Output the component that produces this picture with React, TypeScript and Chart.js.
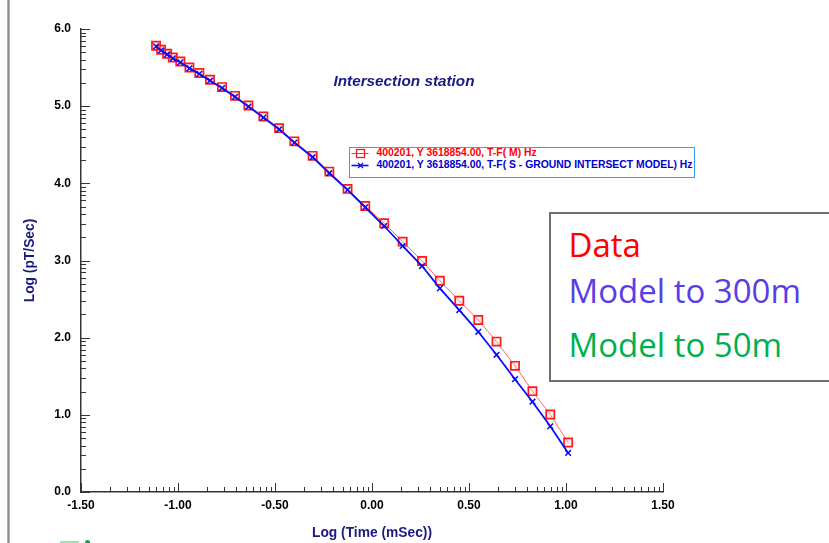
import React, { useEffect, useRef } from 'react';
import { Chart, registerables } from 'chart.js';

Chart.register(...registerables);

// ---- data ----
const LOG_TIME = [
  -1.113, -1.087, -1.056, -1.027, -0.988, -0.941, -0.890, -0.835, -0.773, -0.706,
  -0.637, -0.560, -0.479, -0.400, -0.306, -0.220, -0.126, -0.035, 0.063, 0.158,
  0.258, 0.350, 0.450, 0.548, 0.642, 0.737, 0.827, 0.919, 1.011,
];
const DATA_VALUES = [
  5.783, 5.731, 5.679, 5.631, 5.579, 5.501, 5.429, 5.342, 5.247, 5.134,
  5.008, 4.866, 4.715, 4.544, 4.356, 4.152, 3.928, 3.707, 3.483, 3.244,
  2.993, 2.738, 2.478, 2.228, 1.949, 1.635, 1.307, 1.004, 0.641,
];
const MODEL_VALUES = [
  5.775, 5.722, 5.670, 5.620, 5.568, 5.490, 5.418, 5.330, 5.235, 5.120,
  4.995, 4.852, 4.700, 4.528, 4.339, 4.131, 3.915, 3.690, 3.447, 3.188,
  2.928, 2.639, 2.358, 2.076, 1.778, 1.462, 1.170, 0.852, 0.506,
];
const X_TICKS = [-1.5, -1.0, -0.5, 0.0, 0.5, 1.0, 1.5];
const Y_TICKS = [0, 1, 2, 3, 4, 5, 6];
const MINOR_STEPS = [2, 3, 4, 5, 6, 7, 8, 9];

const SERIES_DATA_LABEL = '400201, Y 3618854.00, T-F( M) Hz';
const SERIES_MODEL_LABEL = '400201, Y 3618854.00, T-F( S - GROUND INTERSECT MODEL) Hz';
const CHART_TITLE = 'Intersection station';
const X_TITLE = 'Log (Time (mSec))';
const Y_TITLE = 'Log (pT/Sec)';
const NOTE_LINES = ['Data', 'Model to 300m', 'Model to 50m'];

const FONT = '"Liberation Sans", Arial, Helvetica, sans-serif';
const NAVY = '#1a1a80';

const tickPlugin = {
  id: 'logMinorTicks',
  afterDraw(chart: any) {
    const { ctx, chartArea } = chart;
    const xs = chart.scales.x;
    const ys = chart.scales.y;
    ctx.save();
    ctx.strokeStyle = '#333';
    ctx.lineWidth = 1;
    const seg = (x1: number, y1: number, x2: number, y2: number) => {
      ctx.beginPath();
      ctx.moveTo(x1, y1);
      ctx.lineTo(x2, y2);
      ctx.stroke();
    };
    const b = chartArea.bottom;
    X_TICKS.forEach((v, i) => {
      const px = Math.round(xs.getPixelForValue(v)) + 0.5;
      seg(px, b, px, b - 9);
      if (i < X_TICKS.length - 1) {
        const step = X_TICKS[i + 1] - v;
        MINOR_STEPS.forEach((k) => {
          const mx = Math.round(xs.getPixelForValue(v + step * Math.log10(k))) + 0.5;
          seg(mx, b, mx, b - 5);
        });
      }
    });
    const l = chartArea.left;
    Y_TICKS.forEach((v, i) => {
      const py = Math.round(ys.getPixelForValue(v)) + 0.5;
      seg(l, py, l + 9, py);
      if (i < Y_TICKS.length - 1) {
        const step = Y_TICKS[i + 1] - v;
        MINOR_STEPS.forEach((k) => {
          const my = Math.round(ys.getPixelForValue(v + step * Math.log10(k))) + 0.5;
          seg(l, my, l + 5, my);
        });
      }
    });
    ctx.restore();
  },
};

export default function App() {
  const canvasRef = useRef<HTMLCanvasElement | null>(null);

  useEffect(() => {
    if (!canvasRef.current) return;
    const chart = new Chart(canvasRef.current, {
      type: 'scatter',
      data: {
        datasets: [
          {
            label: SERIES_DATA_LABEL,
            data: LOG_TIME.map((x, i) => ({ x, y: DATA_VALUES[i] })),
            showLine: true,
            borderColor: '#ff6a6a',
            borderWidth: 1,
            pointStyle: 'rect',
            pointRadius: 5.8,
            pointBorderColor: '#ff1a1a',
            pointBorderWidth: 1.7,
            pointBackgroundColor: 'rgba(255,200,200,0.25)',
            order: 1,
          },
          {
            label: SERIES_MODEL_LABEL,
            data: LOG_TIME.map((x, i) => ({ x, y: MODEL_VALUES[i] })),
            showLine: true,
            borderColor: '#0a0aff',
            borderWidth: 1.8,
            pointStyle: 'crossRot',
            pointRadius: 4,
            pointBorderColor: '#0a0aff',
            pointBorderWidth: 1.5,
            pointBackgroundColor: '#0a0aff',
            order: 0,
          },
        ],
      },
      options: {
        animation: false,
        responsive: false,
        devicePixelRatio: 1,
        layout: { padding: { left: 0, right: 166, top: 29, bottom: 0 } },
        plugins: {
          legend: { display: false },
          tooltip: { enabled: false },
          title: { display: false },
        },
        scales: {
          x: {
            type: 'linear',
            min: -1.5,
            max: 1.5,
            afterBuildTicks: (s: any) => {
              s.ticks = X_TICKS.map((value) => ({ value }));
            },
            afterFit: (s: any) => {
              s.height = 51;
            },
            grid: { display: false, drawTicks: false },
            border: { display: true, color: '#333', width: 1.5 },
            ticks: {
              padding: 6,
              color: '#000',
              maxRotation: 0,
              autoSkip: false,
              font: { family: FONT, size: 12, weight: 'bold' },
              callback: (v: any) => Number(v).toFixed(2),
            },
            title: {
              display: true,
              text: X_TITLE,
              color: NAVY,
              font: { family: FONT, size: 13.8, weight: 'bold' },
              padding: { top: 0, bottom: 2 },
            },
          },
          y: {
            type: 'linear',
            min: 0,
            max: 6,
            afterBuildTicks: (s: any) => {
              s.ticks = Y_TICKS.map((value) => ({ value }));
            },
            afterFit: (s: any) => {
              s.width = 81;
            },
            grid: { display: false, drawTicks: false },
            border: { display: true, color: '#333', width: 1.5 },
            ticks: {
              padding: 10,
              color: '#000',
              autoSkip: false,
              font: { family: FONT, size: 12, weight: 'bold' },
              callback: (v: any) => Number(v).toFixed(1),
            },
            title: {
              display: true,
              text: Y_TITLE,
              color: NAVY,
              font: { family: FONT, size: 13.8, weight: 'bold' },
              padding: { top: 22, bottom: 0 },
            },
          },
        },
      },
      plugins: [tickPlugin],
    } as any);
    return () => chart.destroy();
  }, []);

  const noteColors = ['#ff0000', '#5a3de6', '#00b050'];
  const noteTops = [228, 273.5, 327.5];

  return (
    <div
      style={{
        position: 'fixed',
        left: 0,
        top: 0,
        width: 829,
        height: 543,
        overflow: 'hidden',
        background: '#fff',
      }}
    >
      <canvas
        ref={canvasRef}
        width={829}
        height={543}
        style={{ position: 'absolute', left: 0, top: 0, width: 829, height: 543 }}
      />
      {/* page edge line */}
      <div
        style={{
          position: 'absolute',
          left: 7,
          top: 0,
          width: 3,
          height: 543,
          background: 'linear-gradient(to right, #c4c4c4, #8c8c8c, #c8c8c8)',
        }}
      />
      {/* chart title */}
      <div
        style={{
          position: 'absolute',
          left: 304,
          top: 72,
          width: 200,
          textAlign: 'center',
          font: `italic bold 15.3px ${FONT}`,
          lineHeight: '18px',
          color: NAVY,
          whiteSpace: 'nowrap',
        }}
      >
        {CHART_TITLE}
      </div>
      {/* legend */}
      <div
        style={{
          position: 'absolute',
          left: 349,
          top: 147,
          width: 346,
          height: 31,
          boxSizing: 'border-box',
          border: '1px solid #3a9cff',
          background: '#fff',
        }}
      />
      <svg
        width={20}
        height={26}
        style={{ position: 'absolute', left: 350, top: 147 }}
      >
        <line x1={1.5} y1={6.5} x2={18.5} y2={6.5} stroke="#ff3030" strokeWidth={1} />
        <rect x={6.5} y={2.5} width={8} height={8} fill="none" stroke="#ff1a1a" strokeWidth={1.3} />
        <line x1={1.5} y1={18.5} x2={18.5} y2={18.5} stroke="#0a0aff" strokeWidth={1.6} />
        <line x1={8} y1={16} x2={13} y2={21} stroke="#0a0aff" strokeWidth={1.3} />
        <line x1={13} y1={16} x2={8} y2={21} stroke="#0a0aff" strokeWidth={1.3} />
      </svg>
      <div
        style={{
          position: 'absolute',
          left: 376.5,
          top: 147.3,
          font: `bold 10.4px ${FONT}`,
          lineHeight: '12px',
          color: '#ff0000',
          whiteSpace: 'nowrap',
        }}
      >
        {SERIES_DATA_LABEL}
      </div>
      <div
        style={{
          position: 'absolute',
          left: 376.5,
          top: 159.2,
          font: `bold 10.4px ${FONT}`,
          lineHeight: '12px',
          color: '#0000d0',
          whiteSpace: 'nowrap',
        }}
      >
        {SERIES_MODEL_LABEL}
      </div>
      {/* annotation box */}
      <div
        style={{
          position: 'absolute',
          left: 549,
          top: 212,
          width: 300,
          height: 170,
          boxSizing: 'border-box',
          border: '2px solid #6f6f6f',
          background: '#fff',
        }}
      />
      {NOTE_LINES.map((t, i) => (
        <div
          key={t}
          style={{
            position: 'absolute',
            left: 568.5,
            top: noteTops[i],
            font: `33px "Open Sans", sans-serif`,
            lineHeight: '33px',
            color: noteColors[i],
            whiteSpace: 'nowrap',
          }}
        >
          {t}
        </div>
      ))}
      {/* cropped slide fragment at the bottom edge */}
      <div
        style={{
          position: 'absolute',
          left: 60,
          top: 541,
          width: 19,
          height: 2,
          background: '#9fe0b6',
        }}
      />
      <div
        style={{
          position: 'absolute',
          left: 85,
          top: 540,
          width: 5,
          height: 5,
          borderRadius: '50%',
          background: '#10a050',
        }}
      />
    </div>
  );
}
